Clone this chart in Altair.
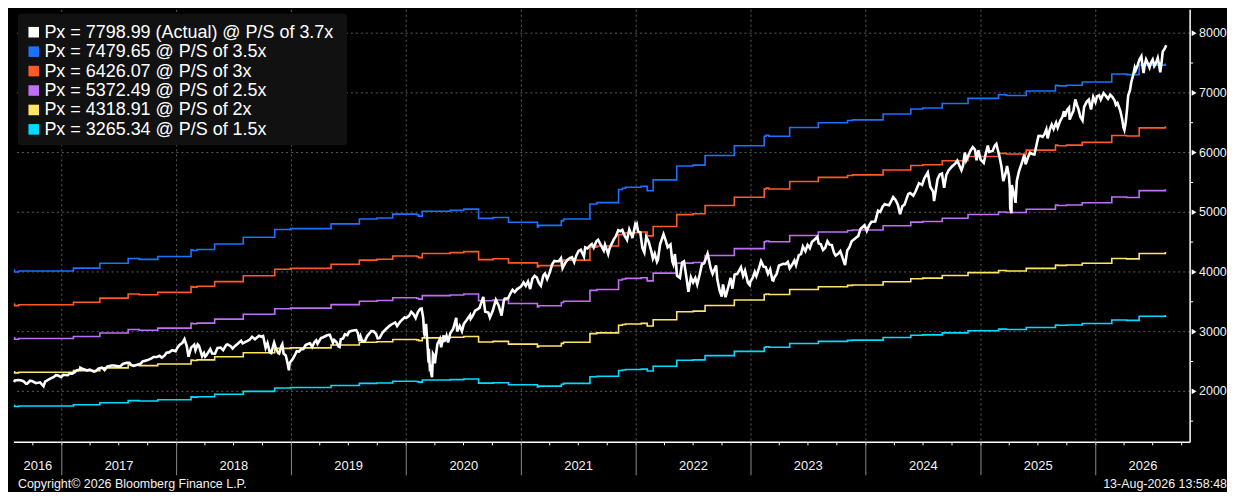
import altair as alt
import pandas as pd

# ---------------- data ----------------
PX_DATES = [
    "2016-08-02", "2016-08-05", "2016-08-15", "2016-08-23", "2016-09-01", "2016-09-09", "2016-09-13", "2016-09-22",
    "2016-09-30", "2016-10-11", "2016-10-24", "2016-11-04", "2016-11-09", "2016-11-17", "2016-11-25", "2016-12-07",
    "2016-12-13", "2016-12-21", "2016-12-30",
    "2017-01-06", "2017-01-13", "2017-01-20", "2017-01-26", "2017-02-03", "2017-02-10", "2017-02-17", "2017-02-28",
    "2017-03-01", "2017-03-10", "2017-03-22", "2017-03-31", "2017-04-13", "2017-04-19", "2017-04-28", "2017-05-09",
    "2017-05-17", "2017-05-26", "2017-06-09", "2017-06-16", "2017-06-29", "2017-07-07", "2017-07-14", "2017-07-26",
    "2017-08-04", "2017-08-10", "2017-08-18", "2017-08-29", "2017-09-08", "2017-09-15", "2017-09-29", "2017-10-13",
    "2017-10-20", "2017-10-31", "2017-11-08", "2017-11-15", "2017-11-24", "2017-11-30", "2017-12-08", "2017-12-18",
    "2017-12-29",
    "2018-01-05", "2018-01-12", "2018-01-19", "2018-01-26", "2018-02-02", "2018-02-08", "2018-02-16", "2018-02-26",
    "2018-03-02", "2018-03-09", "2018-03-13", "2018-03-23", "2018-03-29", "2018-04-02", "2018-04-06", "2018-04-18",
    "2018-04-24", "2018-05-03", "2018-05-11", "2018-05-21", "2018-05-29", "2018-06-08", "2018-06-12", "2018-06-22",
    "2018-06-28", "2018-07-06", "2018-07-17", "2018-07-25", "2018-07-30", "2018-08-10", "2018-08-21", "2018-08-29",
    "2018-09-07", "2018-09-20", "2018-09-28", "2018-10-03", "2018-10-11", "2018-10-17", "2018-10-24", "2018-10-29",
    "2018-11-02", "2018-11-07", "2018-11-14", "2018-11-20", "2018-11-23", "2018-11-30", "2018-12-03", "2018-12-07",
    "2018-12-14", "2018-12-20", "2018-12-24", "2018-12-26", "2018-12-31",
    "2019-01-04", "2019-01-11", "2019-01-18", "2019-01-25", "2019-02-01", "2019-02-08", "2019-02-15", "2019-02-22",
    "2019-03-01", "2019-03-08", "2019-03-15", "2019-03-21", "2019-03-25", "2019-04-05", "2019-04-12", "2019-04-23",
    "2019-04-30", "2019-05-03", "2019-05-13", "2019-05-17", "2019-05-24", "2019-05-31", "2019-06-03", "2019-06-07",
    "2019-06-14", "2019-06-20", "2019-06-28", "2019-07-03", "2019-07-12", "2019-07-26", "2019-07-31", "2019-08-05",
    "2019-08-09", "2019-08-14", "2019-08-23", "2019-08-30", "2019-09-12", "2019-09-19", "2019-09-27", "2019-10-02",
    "2019-10-08", "2019-10-18", "2019-10-28", "2019-11-08", "2019-11-15", "2019-11-27", "2019-12-03", "2019-12-13",
    "2019-12-27", "2019-12-31",
    "2020-01-03", "2020-01-10", "2020-01-17", "2020-01-24", "2020-01-31", "2020-02-07", "2020-02-14", "2020-02-19",
    "2020-02-24", "2020-02-27", "2020-02-28", "2020-03-03", "2020-03-04", "2020-03-09", "2020-03-12", "2020-03-13",
    "2020-03-16", "2020-03-18", "2020-03-20", "2020-03-23", "2020-03-26", "2020-03-31", "2020-04-01", "2020-04-09",
    "2020-04-17", "2020-04-21", "2020-04-29", "2020-05-01", "2020-05-08", "2020-05-13", "2020-05-20", "2020-05-29",
    "2020-06-08", "2020-06-11", "2020-06-19", "2020-06-26", "2020-07-02", "2020-07-10", "2020-07-22", "2020-07-24",
    "2020-07-31", "2020-08-07", "2020-08-14", "2020-08-21", "2020-08-28", "2020-09-02", "2020-09-08", "2020-09-18",
    "2020-09-23", "2020-10-02", "2020-10-12", "2020-10-21", "2020-10-30", "2020-11-06", "2020-11-09", "2020-11-20",
    "2020-11-27", "2020-12-04", "2020-12-11", "2020-12-18", "2020-12-31",
    "2021-01-08", "2021-01-15", "2021-01-22", "2021-01-29", "2021-02-05", "2021-02-12", "2021-02-19", "2021-02-26",
    "2021-03-04", "2021-03-12", "2021-03-17", "2021-03-24", "2021-03-31", "2021-04-09", "2021-04-16", "2021-04-23",
    "2021-04-30", "2021-05-07", "2021-05-12", "2021-05-21", "2021-05-28", "2021-06-04", "2021-06-11", "2021-06-18",
    "2021-06-25", "2021-07-02", "2021-07-09", "2021-07-19", "2021-07-23", "2021-07-30", "2021-08-06", "2021-08-13",
    "2021-08-19", "2021-08-27", "2021-09-02", "2021-09-10", "2021-09-20", "2021-09-24", "2021-10-04", "2021-10-08",
    "2021-10-15", "2021-10-22", "2021-10-29", "2021-11-05", "2021-11-12", "2021-11-18", "2021-11-26", "2021-11-30",
    "2021-12-03", "2021-12-10", "2021-12-17", "2021-12-20", "2021-12-29", "2021-12-31",
    "2022-01-03", "2022-01-07", "2022-01-14", "2022-01-21", "2022-01-27", "2022-02-02", "2022-02-10", "2022-02-18",
    "2022-02-23", "2022-03-01", "2022-03-08", "2022-03-11", "2022-03-18", "2022-03-29", "2022-04-05", "2022-04-11",
    "2022-04-20", "2022-04-26", "2022-04-29", "2022-05-04", "2022-05-11", "2022-05-20", "2022-05-27", "2022-06-02",
    "2022-06-10", "2022-06-16", "2022-06-24", "2022-07-01", "2022-07-08", "2022-07-14", "2022-07-22", "2022-07-29",
    "2022-08-05", "2022-08-16", "2022-08-26", "2022-09-01", "2022-09-12", "2022-09-16", "2022-09-23", "2022-09-30",
    "2022-10-04", "2022-10-12", "2022-10-21", "2022-10-28", "2022-11-03", "2022-11-10", "2022-11-18", "2022-11-30",
    "2022-12-07", "2022-12-13", "2022-12-22", "2022-12-28", "2022-12-30",
    "2023-01-06", "2023-01-13", "2023-01-18", "2023-01-27", "2023-02-02", "2023-02-10", "2023-02-17", "2023-02-24",
    "2023-03-03", "2023-03-10", "2023-03-13", "2023-03-17", "2023-03-24", "2023-03-31", "2023-04-14", "2023-04-21",
    "2023-04-28", "2023-05-04", "2023-05-12", "2023-05-19", "2023-05-24", "2023-06-02", "2023-06-09", "2023-06-15",
    "2023-06-23", "2023-06-30", "2023-07-07", "2023-07-14", "2023-07-21", "2023-07-31", "2023-08-04", "2023-08-11",
    "2023-08-18", "2023-08-25", "2023-09-01", "2023-09-08", "2023-09-15", "2023-09-22", "2023-09-27", "2023-10-06",
    "2023-10-12", "2023-10-20", "2023-10-27", "2023-11-03", "2023-11-10", "2023-11-17", "2023-11-30", "2023-12-08",
    "2023-12-15", "2023-12-28", "2023-12-29",
    "2024-01-04", "2024-01-12", "2024-01-19", "2024-01-31", "2024-02-09", "2024-02-16", "2024-02-23", "2024-03-01",
    "2024-03-08", "2024-03-15", "2024-03-28", "2024-04-05", "2024-04-12", "2024-04-19", "2024-04-26", "2024-05-03",
    "2024-05-15", "2024-05-21", "2024-05-31", "2024-06-07", "2024-06-18", "2024-06-28", "2024-07-05", "2024-07-16",
    "2024-07-24", "2024-08-02", "2024-08-05", "2024-08-16", "2024-08-23", "2024-08-30", "2024-09-06", "2024-09-13",
    "2024-09-20", "2024-09-30", "2024-10-11", "2024-10-18", "2024-10-31", "2024-11-05", "2024-11-11", "2024-11-15",
    "2024-11-29", "2024-12-06", "2024-12-13", "2024-12-18", "2024-12-24", "2024-12-31",
    "2025-01-10", "2025-01-17", "2025-01-23", "2025-01-27", "2025-02-07", "2025-02-14", "2025-02-19", "2025-02-28",
    "2025-03-07", "2025-03-13", "2025-03-21", "2025-03-25", "2025-03-31", "2025-04-03", "2025-04-04", "2025-04-08",
    "2025-04-09", "2025-04-17", "2025-04-21", "2025-04-25", "2025-05-02", "2025-05-12", "2025-05-19", "2025-05-23",
    "2025-05-30", "2025-06-06", "2025-06-13", "2025-06-20", "2025-06-30", "2025-07-03", "2025-07-10", "2025-07-16",
    "2025-07-22", "2025-07-28", "2025-08-01", "2025-08-08", "2025-08-14", "2025-08-20", "2025-08-28", "2025-09-02",
    "2025-09-10", "2025-09-17", "2025-09-22", "2025-09-25", "2025-10-02", "2025-10-08", "2025-10-10", "2025-10-16",
    "2025-10-22", "2025-10-28", "2025-11-04", "2025-11-07", "2025-11-13", "2025-11-20", "2025-11-25", "2025-12-03",
    "2025-12-10", "2025-12-17", "2025-12-24", "2025-12-31",
    "2026-01-05", "2026-01-12", "2026-01-17", "2026-01-26", "2026-02-02", "2026-02-09", "2026-02-16", "2026-02-23",
    "2026-03-02", "2026-03-06", "2026-03-11", "2026-03-16", "2026-03-20", "2026-03-26", "2026-03-30", "2026-04-02",
    "2026-04-06", "2026-04-10", "2026-04-14", "2026-04-20", "2026-04-24", "2026-04-30", "2026-05-05", "2026-05-08",
    "2026-05-15", "2026-05-20", "2026-05-26", "2026-05-29", "2026-06-02", "2026-06-05", "2026-06-10", "2026-06-15",
    "2026-06-21", "2026-06-25", "2026-07-01", "2026-07-06", "2026-07-09", "2026-07-14", "2026-07-17", "2026-07-22",
    "2026-07-25", "2026-07-29", "2026-08-02", "2026-08-06", "2026-08-10", "2026-08-13",
]
PX_VALUES = [
    2157, 2183, 2190, 2186, 2170, 2128, 2127, 2177, 2168, 2136, 2151, 2085, 2163, 2187, 2213, 2241, 2271, 2265, 2239,
    2277, 2275, 2271, 2297, 2297, 2316, 2351, 2364, 2396, 2373, 2349, 2363, 2329, 2338, 2384, 2397, 2357, 2416, 2432,
    2433, 2419, 2425, 2459, 2478, 2477, 2438, 2426, 2446, 2461, 2500, 2519, 2553, 2575, 2575, 2594, 2564, 2602, 2648,
    2652, 2690, 2674,
    2743, 2786, 2810, 2873, 2762, 2581, 2732, 2780, 2691, 2786, 2765, 2588, 2641, 2582, 2604, 2708, 2634, 2630, 2728,
    2733, 2690, 2779, 2787, 2755, 2716, 2760, 2809, 2846, 2803, 2833, 2863, 2914, 2872, 2931, 2914, 2926, 2728, 2809,
    2656, 2641, 2723, 2814, 2702, 2641, 2633, 2760, 2790, 2633, 2600, 2467, 2351, 2468, 2507,
    2532, 2596, 2671, 2665, 2707, 2708, 2776, 2793, 2804, 2743, 2822, 2855, 2798, 2893, 2907, 2934, 2946, 2946, 2812,
    2860, 2826, 2752, 2744, 2873, 2887, 2954, 2942, 2996, 3014, 3026, 2980, 2845, 2919, 2840, 2847, 2926, 3010, 3006,
    2962, 2888, 2893, 2986, 3040, 3093, 3120, 3154, 3093, 3169, 3240, 3231,
    3235, 3265, 3330, 3295, 3226, 3328, 3380, 3386, 3226, 2979, 2954, 3003, 3130, 2747, 2481, 2711, 2386, 2399, 2305,
    2237, 2630, 2585, 2470, 2790, 2875, 2737, 2939, 2830, 2930, 2820, 2972, 3044, 3232, 3002, 3098, 3009, 3130, 3185,
    3276, 3216, 3271, 3351, 3373, 3397, 3508, 3580, 3332, 3319, 3237, 3348, 3534, 3436, 3270, 3510, 3550, 3557, 3638,
    3699, 3663, 3709, 3756,
    3824, 3768, 3841, 3714, 3887, 3934, 3907, 3811, 3768, 3943, 3974, 3881, 3973, 4129, 4185, 4180, 4181, 4233, 4063,
    4156, 4204, 4230, 4247, 4166, 4281, 4352, 4370, 4258, 4412, 4395, 4437, 4468, 4406, 4509, 4537, 4459, 4358, 4455,
    4300, 4391, 4471, 4545, 4605, 4698, 4683, 4704, 4595, 4567, 4538, 4712, 4620, 4568, 4793, 4766,
    4797, 4677, 4663, 4398, 4326, 4589, 4504, 4349, 4225, 4306, 4170, 4204, 4463, 4631, 4525, 4413, 4459, 4175, 4132,
    4300, 3935, 3901, 4158, 4177, 3901, 3667, 3912, 3825, 3899, 3790, 3962, 4130, 4145, 4305, 4058, 3967, 4110, 3873,
    3693, 3586, 3791, 3577, 3752, 3901, 3720, 3956, 3965, 4080, 3933, 4020, 3822, 3783, 3840,
    3895, 3999, 3929, 4071, 4180, 4090, 4079, 3970, 4046, 3862, 3855, 3917, 3971, 4109, 4138, 4133, 4169, 4061, 4124,
    4192, 4115, 4282, 4299, 4426, 4348, 4450, 4399, 4505, 4536, 4589, 4478, 4464, 4370, 4406, 4515, 4457, 4450, 4320,
    4274, 4309, 4349, 4224, 4117, 4358, 4415, 4514, 4568, 4604, 4719, 4783, 4770,
    4688, 4784, 4840, 4846, 5027, 5006, 5089, 5137, 5124, 5117, 5254, 5204, 5123, 4967, 5100, 5128, 5308, 5321, 5278,
    5347, 5487, 5460, 5567, 5667, 5427, 5346, 5186, 5554, 5634, 5648, 5408, 5626, 5702, 5762, 5815, 5865, 5705, 5782,
    6001, 5870, 6032, 6090, 6051, 5872, 6040, 5882,
    5827, 5997, 6119, 6012, 6026, 6115, 6144, 5955, 5770, 5522, 5668, 5777, 5612, 5397, 5074, 4983, 5457, 5283, 5158,
    5525, 5687, 5844, 5964, 5802, 5912, 6000, 5977, 5968, 6205, 6279, 6280, 6264, 6309, 6389, 6238, 6389, 6469, 6395,
    6502, 6416, 6532, 6600, 6693, 6604, 6715, 6753, 6553, 6630, 6700, 6890, 6771, 6728, 6600, 6538, 6765, 6849, 6886,
    6721, 6930, 6845,
    6940, 6960, 6887, 6994, 6950, 6900, 6968, 6930, 6870, 6800, 6830, 6760, 6700, 6560, 6420, 6380, 6500, 6700, 6950,
    7050, 7182, 7300, 7424, 7380, 7478, 7560, 7613, 7480, 7330, 7450, 7560, 7500, 7424, 7500, 7558, 7450, 7478, 7540,
    7585, 7450, 7344, 7500, 7694, 7720, 7760, 7798.99,
]

# quarterly sales-per-share steps behind the P/S lines
PS_STEP_DATES = [
    "2016-08-02", "2016-08-04", "2016-08-17", "2017-02-07", "2017-05-02", "2017-07-31", "2017-09-04", "2017-11-02",
    "2018-02-16", "2018-02-22", "2018-03-07", "2018-05-02", "2018-08-01", "2018-11-09", "2018-12-29", "2019-05-07",
    "2019-08-05", "2019-09-30", "2019-11-19", "2020-02-03", "2020-02-09", "2020-02-21", "2020-05-20", "2020-07-02",
    "2020-08-18", "2020-10-03", "2020-11-21", "2021-02-21", "2021-02-25", "2021-05-08", "2021-05-15", "2021-08-07",
    "2021-08-29", "2021-11-06", "2021-11-18", "2021-11-28", "2022-01-17", "2022-02-05", "2022-02-24", "2022-05-10",
    "2022-07-01", "2022-08-08", "2022-11-09", "2023-02-12", "2023-02-18", "2023-02-27", "2023-05-04", "2023-08-03",
    "2023-11-04", "2023-11-20", "2024-02-25", "2024-05-23", "2024-06-30", "2024-08-31", "2024-11-21", "2025-02-26",
    "2025-03-23", "2025-05-25", "2025-08-26", "2025-09-02", "2025-09-30", "2025-11-19", "2026-02-21", "2026-04-09",
    "2026-05-19", "2026-08-10", "2026-08-13",
]
SALES_PER_SHARE = [
    1135.9, 1126.9, 1131.4, 1144.9, 1167.7, 1190.6, 1186.1, 1199.6,
    1231.4, 1228.3, 1232.8, 1258.7, 1290.6, 1326.9, 1331.4, 1354.0,
    1376.8, 1381.3, 1399.6, 1396.5, 1390.3, 1413.1, 1417.6, 1423.5,
    1379.6, 1384.1, 1361.3, 1338.7, 1346.6, 1367.8, 1376.8, 1447.8,
    1454.0, 1516.0, 1522.1, 1526.6, 1531.2, 1510.0, 1561.3, 1626.7,
    1631.2, 1676.8, 1722.2, 1767.5, 1772.0, 1767.5, 1808.4, 1831.2,
    1841.6, 1844.7, 1872.0, 1896.3, 1900.8, 1922.2, 1946.1, 1963.0,
    1959.7, 1981.1, 2008.4, 2005.3, 2008.4, 2023.3, 2061.1, 2058.3,
    2103.0, 2107.2, 2107.2,
]
MULTIPLES = [3.5, 3.0, 2.5, 2.0, 1.5]
MULTIPLE_ADJ = 0.0496

LEGEND_LABELS = [
    "Px = 7798.99 (Actual) @ P/S of 3.7x",
    "Px = 7479.65 @ P/S of 3.5x",
    "Px = 6426.07 @ P/S of 3x",
    "Px = 5372.49 @ P/S of 2.5x",
    "Px = 4318.91 @ P/S of 2x",
    "Px = 3265.34 @ P/S of 1.5x",
]
SERIES_COLORS = ["#ffffff", "#1a72ff", "#ff5a26", "#bf6ef7", "#ffe566", "#00dcff"]

Y_GRID = [2000, 3000, 4000, 5000, 6000, 7000, 8000]
Y_MINOR = [1500, 2500, 3500, 4500, 5500, 6500, 7500]
YEAR_LABELS = ["2016", "2017", "2018", "2019", "2020", "2021", "2022", "2023", "2024", "2025", "2026"]
COPYRIGHT = "Copyright\u00a9 2026 Bloomberg Finance L.P."
STAMP = "13-Aug-2026 13:58:48"

# ---------------- layout ----------------
W, H = 1180, 434
X_START, X_END = "2016-08-02", "2026-10-28"
FONT = "Liberation Sans"
TXT = "#f2f2f2"
GRID = "#5c5c5c"

x_scale = alt.Scale(domain=[alt.DateTime(year=2016, month=8, date=2),
                            alt.DateTime(year=2026, month=10, date=28)])
y_scale = alt.Scale(domain=[1145, 8392], nice=False, zero=False)

X = lambda f="date:T": alt.X(f, scale=x_scale, axis=None)
Y = lambda f: alt.Y(f, scale=y_scale, axis=None)

# ---------------- frames ----------------
px_df = pd.DataFrame({"date": PX_DATES, "value": PX_VALUES, "series": LEGEND_LABELS[0]})

rows = []
for m, lab in zip(MULTIPLES, LEGEND_LABELS[1:]):
    for d, s in zip(PS_STEP_DATES, SALES_PER_SHARE):
        rows.append({"date": d, "series": lab, "value": round(s * (m + MULTIPLE_ADJ), 2)})
step_df = pd.DataFrame(rows)

year_starts = [f"{y}-01-01" for y in range(int(YEAR_LABELS[1]), int(YEAR_LABELS[-1]) + 1)]
bounds = [pd.Timestamp(X_START)] + [pd.Timestamp(d) for d in year_starts] + [pd.Timestamp(X_END)]
mid = [(bounds[i] + (bounds[i + 1] - bounds[i]) / 2).strftime("%Y-%m-%d") for i in range(len(YEAR_LABELS))]
year_lab_df = pd.DataFrame({"date": mid, "label": YEAR_LABELS})
year_start_df = pd.DataFrame({"date": year_starts})
ygrid_df = pd.DataFrame({"v": Y_GRID})
yminor_df = pd.DataFrame({"v": Y_MINOR})

quarters = [f"{y}-{m:02d}-01" for y in range(2016, 2027) for m in (1, 4, 7, 10)
            if pd.Timestamp(X_START) <= pd.Timestamp(f"{y}-{m:02d}-01") <= pd.Timestamp(X_END)]
quarter_df = pd.DataFrame({"date": quarters})
one = pd.DataFrame({"k": [0]})

color = alt.Color("series:N", scale=alt.Scale(domain=LEGEND_LABELS, range=SERIES_COLORS), legend=None)

# ---------------- layers ----------------
vgrid = alt.Chart(year_start_df).mark_rule(color=GRID, strokeDash=[2, 3], strokeWidth=1).encode(x=X())
hgrid = alt.Chart(ygrid_df).mark_rule(color=GRID, strokeDash=[2, 3], strokeWidth=1).encode(y=Y("v:Q"))

steps = alt.Chart(step_df).mark_line(interpolate="step-after", strokeWidth=1.6).encode(
    x=X(), y=Y("value:Q"), color=color)
actual = alt.Chart(px_df).mark_line(strokeWidth=2.6).encode(
    x=X(), y=Y("value:Q"), color=color)

# right value axis
y_domain = alt.Chart(one).mark_rule(color="#ffffff", strokeWidth=1.5).encode(
    x=alt.value(W), y=alt.value(0), y2=alt.value(H))
y_minor = alt.Chart(yminor_df).mark_rule(color="#ffffff", strokeWidth=1).encode(
    x=alt.value(W), x2=alt.value(W + 3), y=Y("v:Q"))
tri = alt.Chart(ygrid_df).mark_point(shape="triangle-right", filled=True, size=32, color="#ffffff",
                                     opacity=1).encode(x=alt.value(W + 4), y=Y("v:Q"))
y_labels = alt.Chart(ygrid_df).mark_text(font=FONT, fontSize=12.5, color=TXT, align="left",
                                         baseline="middle").encode(
    x=alt.value(W + 9), y=Y("v:Q"), text=alt.Text("v:Q", format="d"))

# bottom time axis
x_domain = alt.Chart(one).mark_rule(color="#ffffff", strokeWidth=1.5).encode(
    x=alt.value(0), x2=alt.value(W), y=alt.value(H))
x_ticks = alt.Chart(quarter_df).mark_rule(color="#ffffff", strokeWidth=1).encode(
    x=X(), y=alt.value(H), y2=alt.value(H + 3))
separators = alt.Chart(year_start_df).mark_rule(color="#8a8a8a", strokeWidth=1).encode(
    x=X(), y=alt.value(H), y2=alt.value(H + 33))
year_text = alt.Chart(year_lab_df).mark_text(font=FONT, fontSize=13, color=TXT, baseline="middle").encode(
    x=X(), y=alt.value(H + 24), text="label:N")

foot_df = pd.DataFrame({"left": [COPYRIGHT], "right": [STAMP]})
copy_text = alt.Chart(foot_df).mark_text(font=FONT, fontSize=12.5, color=TXT, align="left",
                                         baseline="middle").encode(
    x=alt.value(4), y=alt.value(H + 42), text="left:N")
stamp_text = alt.Chart(foot_df).mark_text(font=FONT, fontSize=12.5, color=TXT, align="right",
                                          baseline="middle").encode(
    x=alt.value(W + 37), y=alt.value(H + 42), text="right:N")

# legend box (top-left)
LX0, LX1, LY0, LY1 = 4, 334, 4, 136
ROW0, ROW_STEP = 22.5, 19.5
legend_layers = [
    alt.Chart(one).mark_rect(color="#111111", cornerRadius=3).encode(
        x=alt.value(LX0), x2=alt.value(LX1), y=alt.value(LY0), y2=alt.value(LY1))
]
for i, (lab, col) in enumerate(zip(LEGEND_LABELS, SERIES_COLORS)):
    yy = ROW0 + ROW_STEP * i
    ldf = pd.DataFrame({"label": [lab]})
    legend_layers.append(
        alt.Chart(ldf).mark_square(size=112, filled=True, color=col, opacity=1).encode(
            x=alt.value(19.8), y=alt.value(yy)))
    legend_layers.append(
        alt.Chart(ldf).mark_text(font=FONT, fontSize=18, color="#ffffff", align="left",
                                 baseline="middle").encode(
            x=alt.value(30.5), y=alt.value(yy + 0.5), text="label:N"))

chart = alt.layer(
    vgrid, hgrid, steps, actual,
    y_domain, y_minor, tri, y_labels,
    x_domain, x_ticks, separators, year_text, copy_text, stamp_text,
    *legend_layers,
).properties(
    width=W, height=H, padding=0, background="#000000",
).configure_view(stroke=None)

chart.save("out.html", embed_options={"renderer": "svg", "actions": False})
